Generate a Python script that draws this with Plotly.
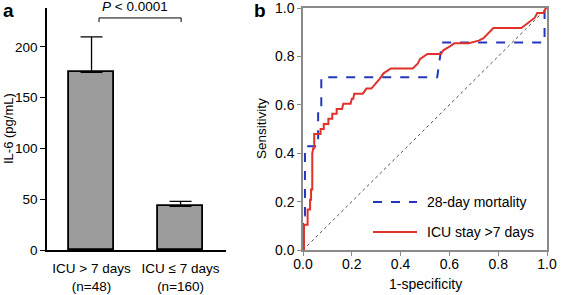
import plotly.graph_objects as go

# ---- Panel a data ----
groups = ["ICU > 7 days<br>(n=48)", "ICU ≤ 7 days<br>(n=160)"]
il6_mean = [175, 43]
il6_err = [35, 5]
p_text = "<i>P</i> < 0.0001"

# ---- Panel b data ----
mort_fpr = [0, 0, 0.008, 0.008, 0.062, 0.062, 0.075, 0.075, 0.55, 0.57, 0.99, 0.99, 1.0]
mort_tpr = [0, 0.143, 0.143, 0.429, 0.429, 0.571, 0.571, 0.714, 0.714, 0.857, 0.857, 1.0, 1.0]

icu_fpr = [0, 0.004, 0.004, 0.019, 0.019, 0.029, 0.029, 0.033, 0.033, 0.038, 0.038, 0.042,
           0.046, 0.046, 0.072, 0.072, 0.085, 0.085, 0.104, 0.104, 0.12, 0.12, 0.138, 0.138,
           0.16, 0.165, 0.195, 0.2, 0.206, 0.21, 0.245, 0.26, 0.28, 0.30, 0.315, 0.33, 0.345,
           0.36, 0.45, 0.47, 0.48, 0.51, 0.565, 0.575, 0.60, 0.62, 0.68, 0.72, 0.74, 0.78,
           0.895, 0.925, 0.95, 0.96, 0.985, 0.995, 1.0]
icu_tpr = [0, 0, 0.104, 0.104, 0.167, 0.167, 0.208, 0.208, 0.25, 0.25, 0.40, 0.42,
           0.42, 0.479, 0.479, 0.50, 0.50, 0.521, 0.521, 0.542, 0.542, 0.563, 0.563, 0.583,
           0.583, 0.604, 0.604, 0.625, 0.625, 0.646, 0.646, 0.667, 0.667, 0.69, 0.708, 0.73, 0.74,
           0.75, 0.75, 0.77, 0.79, 0.81, 0.81, 0.825, 0.84, 0.854, 0.854, 0.865, 0.875, 0.917,
           0.917, 0.94, 0.96, 0.979, 0.979, 1.0, 1.0]
series_names = ["28-day mortality", "ICU stay >7 days"]
ref_line = [0, 1]
roc_ticks = [0.0, 0.2, 0.4, 0.6, 0.8, 1.0]
roc_ticktext = ["0.0", "0.2", "0.4", "0.6", "0.8", "1.0"]
il6_ticks = [0, 50, 100, 150, 200]

FONT = "Liberation Sans, Arial, sans-serif"
BLUE = "#2436bb"
RED = "#e2302a"

fig = go.Figure()

fig.add_trace(go.Bar(
    x=[0, 1], y=il6_mean, width=0.506,
    marker=dict(color="#9b9b9b", line=dict(color="black", width=1.8)),
    error_y=dict(type="data", array=il6_err, arrayminus=[0, 0], symmetric=False,
                 width=11, thickness=1.3, color="black"),
    xaxis="x", yaxis="y", showlegend=False))

fig.add_trace(go.Scatter(x=ref_line, y=ref_line, mode="lines",
                         line=dict(color="black", width=0.7, dash="dot"),
                         xaxis="x2", yaxis="y2", showlegend=False, cliponaxis=False))
fig.add_trace(go.Scatter(x=mort_fpr, y=mort_tpr, mode="lines", name=series_names[0],
                         line=dict(color=BLUE, width=2, dash="dash"),
                         xaxis="x2", yaxis="y2", showlegend=False, cliponaxis=False))
fig.add_trace(go.Scatter(x=icu_fpr, y=icu_tpr, mode="lines", name=series_names[1],
                         line=dict(color=RED, width=2),
                         xaxis="x2", yaxis="y2", showlegend=False, cliponaxis=False))

W, H = 567, 295
def px(x): return x / W
def py(y): return (H - y) / H

shapes = []
# significance bracket (data coordinates of panel a)
shapes.append(dict(type="path", xref="x", yref="y",
                   path="M 0.084,224.5 L 0.084,228.6 L 1.006,228.6 L 1.006,224.5",
                   line=dict(color="black", width=1)))
# legend samples
shapes.append(dict(type="line", xref="paper", yref="paper",
                   x0=px(373), x1=px(417), y0=py(202), y1=py(202),
                   line=dict(color=BLUE, width=2, dash="dash")))
shapes.append(dict(type="line", xref="paper", yref="paper",
                   x0=px(373), x1=px(417), y0=py(232), y1=py(232),
                   line=dict(color=RED, width=2)))

annotations = [
    dict(text=p_text, xref="x", yref="paper", x=0.49, y=py(7), showarrow=False,
         font=dict(size=13.5, color="black", family=FONT), xanchor="center", yanchor="middle"),
    dict(text="<b>a</b>", xref="paper", yref="paper", x=px(1), y=py(10), showarrow=False,
         font=dict(size=19, color="black", family=FONT), xanchor="left", yanchor="middle"),
    dict(text="<b>b</b>", xref="paper", yref="paper", x=px(252), y=py(10), showarrow=False,
         font=dict(size=19, color="black", family=FONT), xanchor="left", yanchor="middle"),
    dict(text=series_names[0], xref="paper", yref="paper", x=px(425), y=py(202), showarrow=False,
         font=dict(size=14, color="black", family=FONT), xanchor="left", yanchor="middle"),
    dict(text=series_names[1], xref="paper", yref="paper", x=px(425), y=py(232), showarrow=False,
         font=dict(size=14, color="black", family=FONT), xanchor="left", yanchor="middle"),
    dict(text="IL-6 (pg/mL)", xref="paper", yref="paper", x=px(8), y=py(129), showarrow=False,
         textangle=-90, font=dict(size=13, color="black", family=FONT),
         xanchor="center", yanchor="middle"),
    dict(text="Sensitivity", xref="paper", yref="paper", x=px(261), y=py(129), showarrow=False,
         textangle=-90, font=dict(size=13.5, color="black", family=FONT),
         xanchor="center", yanchor="middle"),
    dict(text="1-specificity", xref="paper", yref="paper", x=px(425), y=py(284), showarrow=False,
         font=dict(size=14, color="black", family=FONT), xanchor="center", yanchor="middle"),
]

tickfont_a = dict(size=13.5, color="black", family=FONT)
tickfont_b = dict(size=14, color="black", family=FONT)

fig.update_layout(
    width=W, height=H, margin=dict(l=0, r=0, t=0, b=0),
    paper_bgcolor="white", plot_bgcolor="white",
    font=dict(family=FONT, color="black"),
    shapes=shapes, annotations=annotations, bargap=0,
    xaxis=dict(domain=[px(47), px(226)], range=[-0.5, 1.51], tickvals=[0, 1], ticktext=groups,
               showline=True, linecolor="black", linewidth=1.6, ticks="", showgrid=False,
               zeroline=False, tickfont=tickfont_a, anchor="y", automargin=False,
               ticklabeloverflow="allow", ticklabelstandoff=5),
    yaxis=dict(domain=[py(250), py(8)], range=[0, 238.4], tickvals=il6_ticks,
               showline=True, linecolor="black", linewidth=1.6, ticks="outside", ticklen=5,
               tickwidth=1.2, tickcolor="black", showgrid=False, zeroline=False,
               tickfont=tickfont_a, anchor="x", automargin=False, ticklabeloverflow="allow"),
    xaxis2=dict(domain=[px(303), px(547)], range=[0, 1], tickvals=roc_ticks,
                ticktext=roc_ticktext,
                showline=True, mirror=True, linecolor="#8a8a8a", linewidth=1.5,
                ticks="outside", ticklen=4, tickcolor="#8a8a8a", tickwidth=1.2,
                showgrid=False, zeroline=False, tickfont=tickfont_b, anchor="y2",
                automargin=False, ticklabeloverflow="allow", ticklabelstandoff=-4),
    yaxis2=dict(domain=[py(250), py(8)], range=[0, 1], tickvals=roc_ticks,
                ticktext=roc_ticktext,
                showline=True, mirror=True, linecolor="#8a8a8a", linewidth=1.5,
                ticks="outside", ticklen=4, tickcolor="#8a8a8a", tickwidth=1.2,
                showgrid=False, zeroline=False, tickfont=tickfont_b, anchor="x2",
                automargin=False, ticklabeloverflow="allow"),
)

fig.write_html("out.html", config={"displayModeBar": False},
               post_script="document.body.style.margin='0';document.body.style.overflow='hidden';")
